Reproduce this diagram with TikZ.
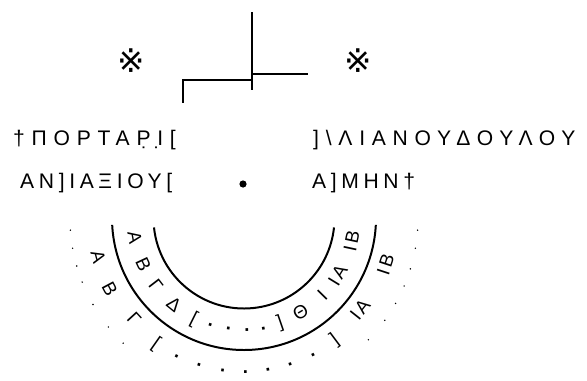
\documentclass[tikz,border=0pt]{standalone}
\usepackage{fontspec}
\setmainfont{Liberation Sans}
\newfontfamily\markfont{DejaVu Sans}
\usetikzlibrary{calc}

\tikzset{
  inscr/.style={font=\fontsize{18}{20}\selectfont\addfontfeature{LetterSpace=32}, inner sep=0pt, anchor=base west},
  inscrtight/.style={inscr, font=\fontsize{18}{20}\selectfont\addfontfeature{LetterSpace=22}},
  ringtxt/.style={font=\fontsize{16}{18}\selectfont, inner sep=0pt},
  refmark/.style={font=\markfont\fontsize{28}{28}\selectfont, inner sep=0pt},
  rule/.style={line width=1.7pt},
}

\begin{document}
\begin{tikzpicture}[x=0.03cm,y=0.03cm]
    \useasboundingbox (0,0) rectangle (587,380);

    % monogram lines at the top
    \draw[rule] (252,368) -- (252,290);
    \draw[rule] (252,306) -- (308,306);
    \draw[rule] (252,300) -- (183,300) -- (183,277);

    % the two reference marks
    \node[refmark] (markL) at (131,319) {※};
    \node[refmark] (markR) at (358,319) {※};

    % inscription, two lines
    \node[inscr] (lineAL) at (13,235) {†ΠΟΡΤΑΡ̣Ι̣[};
    \node[inscr] (lineAR) at (313,235) {]\textbackslash ΛΙΑΝΟΥΔΟΥΛΟΥ};
    \node[inscrtight] (lineBL) at (20,192) {ΑΝ]ΙΑΞΙΟΥ[};
    \node[inscrtight] (lineBR) at (312,192) {Α]ΜΗΝ†};
    \fill (243,196) circle (3.6);

    % the ring
    \coordinate (C) at (244,162);
    \draw[rule] ([shift={(186:90.5)}]C) arc[start angle=186, end angle=354, radius=90.5];
    \draw[rule] ([shift={(183:132)}]C) arc[start angle=183, end angle=357, radius=132];

    % inner ring numerals
    \foreach \a/\r/\t [count=\i] in {190/111/Α, 205/111/Β, 217.5/111/Γ, 231/111/Δ, 243.5/113/[,
        252.5/112/\textbf{.}, 262/112/\textbf{.}, 271.5/112/\textbf{.}, 280/112/\textbf{.},
        289/111/], 301/110/Θ, 315.5/110/Ι,
        328.5/110/{Ι\hspace{2pt}Α}, 348/110/{Ι\hspace{2pt}Β}}
        \node[ringtxt, rotate=\a+90] (in\i) at ($(C)+(\a:\r)$) {\t};

    % outer ring numerals
    \foreach \a/\r/\t [count=\i] in {195/151/Α, 208/152/Β, 222.5/149/Γ, 235/154/[,
        244/154/\textbf{.}, 253/154/\textbf{.}, 262/154/\textbf{.}, 270.5/154/\textbf{.},
        279/154/\textbf{.}, 287.5/154/\textbf{.}, 296.7/154/\textbf{.},
        306.7/152/], 321.6/148/{Ι\hspace{2pt}Α}, 341.8/149/{Ι\hspace{2pt}Β}}
        \node[ringtxt, rotate=\a+90] (out\i) at ($(C)+(\a:\r)$) {\t};

    % faint dotted traces outside
    \foreach \a in {184,190,196,201.6,209.8,218.8,226,315.6,324,330.6,337,343,350,356}
        \fill ($(C)+(\a:174)$) circle (0.8);
\end{tikzpicture}
\end{document}
